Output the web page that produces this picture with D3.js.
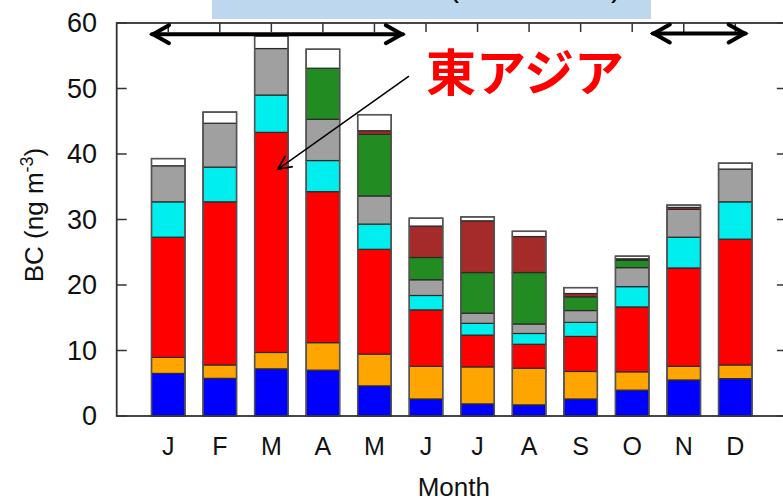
<!DOCTYPE html>
<html>
<head>
<meta charset="utf-8">
<script src="https://cdn.jsdelivr.net/npm/d3@7"></script>
<style>
  body { margin: 0; background: #fff; }
  svg { display: block; font-family: "Liberation Sans", Arial, sans-serif; }
</style>
</head>
<body>
<div id="chart"></div>
<script>
// month labels and stacked BC contributions (ng m-3), bottom to top
const months = ['J', 'F', 'M', 'A', 'M', 'J', 'J', 'A', 'S', 'O', 'N', 'D'];
const blue   = [6.5, 5.75, 7.2, 7.0, 4.6, 2.6, 1.85, 1.7, 2.6, 3.95, 5.5, 5.7];
const orange = [2.45, 2.05, 2.5, 4.2, 4.85, 5.0, 5.65, 5.6, 4.2, 2.8, 2.1, 2.1];
const red    = [18.35, 24.9, 33.6, 23.05, 16.0, 8.6, 4.85, 3.65, 5.35, 9.9, 15.0, 19.2];
const cyan   = [5.4, 5.3, 5.7, 4.75, 3.85, 2.2, 1.8, 1.65, 2.15, 3.1, 4.7, 5.7];
const gray   = [5.5, 6.7, 7.1, 6.3, 4.3, 2.4, 1.55, 1.45, 1.8, 2.9, 4.25, 5.0];
const green  = [0, 0, 0, 7.8, 9.4, 3.4, 6.2, 7.85, 2.1, 1.15, 0, 0];
const brown  = [0, 0, 0, 0, 0.55, 4.8, 7.9, 5.5, 0.5, 0.2, 0.3, 0];
const white  = [1.1, 1.7, 1.9, 2.9, 2.45, 1.2, 0.6, 0.8, 0.9, 0.4, 0.35, 0.9];
const yTicks = [0, 10, 20, 30, 40, 50, 60];

const layers = [
  { key: 'blue', values: blue, color: '#0000ff' },
  { key: 'orange', values: orange, color: '#ffa500' },
  { key: 'red', values: red, color: '#ff0000' },
  { key: 'cyan', values: cyan, color: '#00eeee' },
  { key: 'gray', values: gray, color: '#a0a0a0' },
  { key: 'green', values: green, color: '#228b22' },
  { key: 'brown', values: brown, color: '#a52a2a' },
  { key: 'white', values: white, color: '#ffffff' }
];

const width = 783, height = 501;
const margin = { left: 116.7, top: 23, bottom: 85 };

let rows = months.map((m, i) => {
  let row = { i: i + 1 };
  layers.forEach(l => { row[l.key] = l.values[i]; });
  return row;
});

let x = d3.scaleLinear().domain([0, 13]).range([margin.left, margin.left + 13 * 51.55]);
let y = d3.scaleLinear().domain([0, 60]).range([height - margin.bottom, margin.top]);
let barW = x(0.65) - x(0);

let svg = d3.select('#chart').append('svg')
  .attr('width', width)
  .attr('height', height);

// banner at top, text mostly cut off
svg.append('rect')
  .attr('x', 212).attr('y', 0)
  .attr('width', 439).attr('height', 19)
  .attr('fill', '#bdd7ee');
svg.append('text').attr('x', 449).attr('y', -3)
  .attr('font-size', 30).attr('fill', '#000').text('(');
svg.append('text').attr('x', 611).attr('y', -3)
  .attr('font-size', 30).attr('fill', '#000').text(')');

// ticks (inward)
let axisColor = '#333';
let g = svg.append('g');
yTicks.forEach(t => {
  g.append('line').attr('x1', x(0)).attr('x2', x(0) + 10)
    .attr('y1', y(t)).attr('y2', y(t)).attr('stroke', axisColor).attr('stroke-width', 1.5);
  g.append('line').attr('x1', x(13) - 10).attr('x2', x(13))
    .attr('y1', y(t)).attr('y2', y(t)).attr('stroke', axisColor).attr('stroke-width', 1.5);
});
months.forEach((m, i) => {
  g.append('line').attr('x1', x(i + 1)).attr('x2', x(i + 1))
    .attr('y1', y(60)).attr('y2', y(60) + 9).attr('stroke', axisColor).attr('stroke-width', 1.5);
  g.append('line').attr('x1', x(i + 1)).attr('x2', x(i + 1))
    .attr('y1', y(0)).attr('y2', y(0) - 9).attr('stroke', axisColor).attr('stroke-width', 1.5);
});

// stacked bars
let stack = d3.stack().keys(layers.map(l => l.key));
let series = stack(rows);

let bars = svg.append('g');
series.forEach((s, k) => {
  bars.append('g')
    .selectAll('rect')
    .data(s.filter(d => d[1] - d[0] > 0))
    .enter().append('rect')
    .attr('x', d => x(d.data.i) - barW / 2)
    .attr('width', barW)
    .attr('y', d => y(d[1]))
    .attr('height', d => y(d[0]) - y(d[1]))
    .attr('fill', layers[k].color)
    .attr('stroke', '#2a2a2a')
    .attr('stroke-width', 1.2);
});

// outer bar outline
bars.append('g')
  .selectAll('rect')
  .data(series[series.length - 1])
  .enter().append('rect')
  .attr('x', d => x(d.data.i) - barW / 2)
  .attr('width', barW)
  .attr('y', d => y(d[1]))
  .attr('height', d => y(0) - y(d[1]))
  .attr('fill', 'none')
  .attr('stroke', '#555')
  .attr('stroke-width', 1.5);

// frame
svg.append('rect')
  .attr('x', x(0)).attr('y', y(60))
  .attr('width', x(13) - x(0)).attr('height', y(0) - y(60))
  .attr('fill', 'none')
  .attr('stroke', axisColor)
  .attr('stroke-width', 1.8);

// tick labels
svg.append('g').selectAll('text')
  .data(yTicks)
  .enter().append('text')
  .attr('x', 97)
  .attr('y', d => y(d))
  .attr('dy', '0.35em')
  .attr('text-anchor', 'end')
  .attr('font-size', 27)
  .attr('fill', '#111')
  .text(d => d);

svg.append('g').selectAll('text')
  .data(months)
  .enter().append('text')
  .attr('x', (d, i) => x(i + 1))
  .attr('y', 446)
  .attr('dy', '0.35em')
  .attr('text-anchor', 'middle')
  .attr('font-size', 25)
  .attr('fill', '#111')
  .text(d => d);

svg.append('text')
  .attr('x', x(6.5) + 2)
  .attr('y', 496)
  .attr('text-anchor', 'middle')
  .attr('font-size', 26)
  .attr('fill', '#111')
  .text('Month');

let yl = svg.append('text')
  .attr('transform', 'translate(43,215) rotate(-90)')
  .attr('text-anchor', 'middle')
  .attr('font-size', 26)
  .attr('fill', '#111');
yl.append('tspan').text('BC (ng m');
yl.append('tspan').attr('font-size', 18).attr('dy', -10).text('-3');
yl.append('tspan').attr('dy', 10).text(')');

// double arrows for season spans
function doubleArrow(x0, x1, yv) {
  let a = svg.append('g').attr('stroke', '#000').attr('stroke-width', 4)
    .attr('fill', 'none').attr('stroke-linecap', 'round').attr('stroke-linejoin', 'miter');
  let px0 = x(x0), px1 = x(x1), py = y(yv);
  a.append('line').attr('x1', px0).attr('x2', px1).attr('y1', py).attr('y2', py);
  a.append('path').attr('d', `M${px0 + 17},${py - 9} L${px0 + 1},${py} L${px0 + 17},${py + 9}`);
  a.append('path').attr('d', `M${px1 - 17},${py - 9} L${px1 - 1},${py} L${px1 - 17},${py + 9}`);
}
doubleArrow(0.685, 5.55, 58.3);
doubleArrow(10.4, 12.2, 58.4);

// pointer arrow to March red segment
let ax0 = x(5.67), ay0 = y(51.9), ax1 = x(3.13), ay1 = y(37.7);
svg.append('line')
  .attr('x1', ax0).attr('y1', ay0).attr('x2', ax1).attr('y2', ay1)
  .attr('stroke', '#000').attr('stroke-width', 1.5);
let ang = Math.atan2(ay0 - ay1, ax0 - ax1);
let hl = 15, spread = 0.45;
svg.append('path')
  .attr('d', `M${ax1 + hl * Math.cos(ang - spread)},${ay1 + hl * Math.sin(ang - spread)} L${ax1},${ay1} L${ax1 + hl * Math.cos(ang + spread)},${ay1 + hl * Math.sin(ang + spread)}`)
  .attr('fill', 'none').attr('stroke', '#000').attr('stroke-width', 1.8);

svg.append('text')
  .attr('x', 426)
  .attr('y', 91)
  .attr('font-family', '"Noto Sans CJK JP", sans-serif')
  .attr('font-weight', 'bold')
  .attr('font-size', 50)
  .attr('fill', '#ff0000')
  .text('東アジア');
</script>
</body>
</html>
